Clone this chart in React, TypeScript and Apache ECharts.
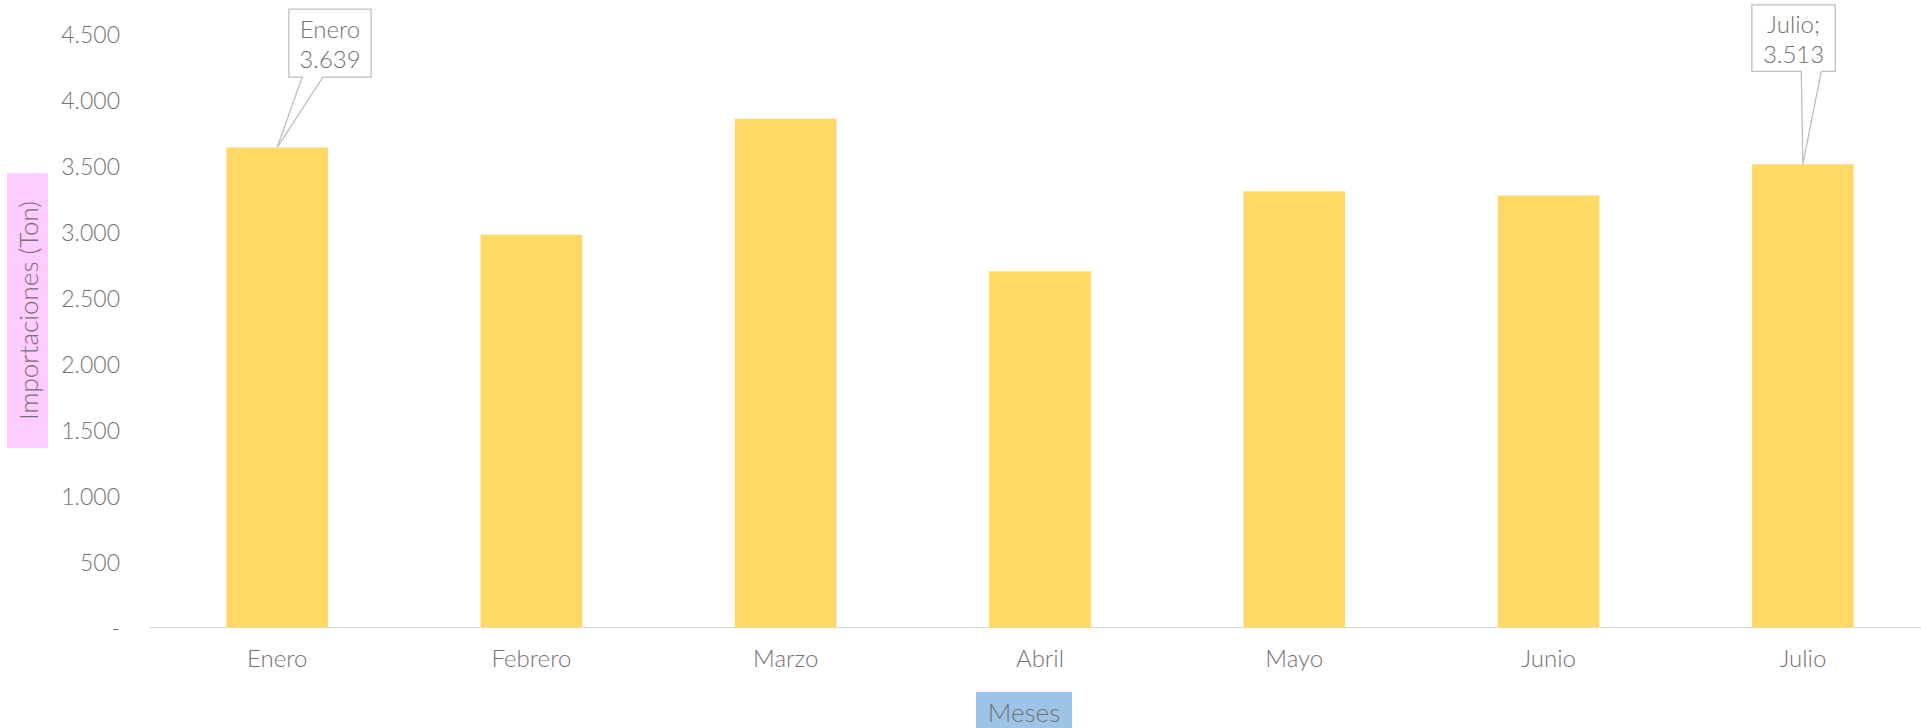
import React, { useEffect, useRef } from "react";
import * as echarts from "echarts";

const categories = ["Enero", "Febrero", "Marzo", "Abril", "Mayo", "Junio", "Julio"];
const importaciones = [3639, 2977, 3857, 2702, 3308, 3275, 3513];
const yTitle = "Importaciones (Ton)";
const xTitle = "Meses";
const calloutIdx = [0, 6];
const calloutSep = ["\n", ";\n"];

const FONT = "Lato, 'Open Sans', sans-serif";
const TXT = "#767171";
const EDGE = "#bfbfbf";
const W = 300;

const fmt = (v: number) => (v === 0 ? "-" : String(v).replace(/\B(?=(\d{3})+(?!\d))/g, "."));

export default function App() {
  const ref = useRef<HTMLDivElement>(null);
  useEffect(() => {
    if (!ref.current) return;
    const chart = echarts.init(ref.current, null, { renderer: "svg" });
    chart.setOption({
      animation: false,
      backgroundColor: "#ffffff",
      grid: { left: 150, right: 0, top: 34, bottom: 100.5, containLabel: false },
      xAxis: {
        type: "category",
        data: categories,
        axisLine: { show: true, lineStyle: { color: "#d9d9d9", width: 1 } },
        axisTick: { show: false },
        axisLabel: { color: TXT, fontFamily: FONT, fontWeight: W, fontSize: 24, margin: 18 },
        splitLine: { show: false },
      },
      yAxis: {
        type: "value",
        min: 0,
        max: 4500,
        interval: 500,
        axisLine: { show: false },
        axisTick: { show: false },
        splitLine: { show: false },
        axisLabel: {
          color: TXT,
          fontFamily: FONT,
          fontWeight: W,
          fontSize: 23,
          margin: 30,
          formatter: (v: number) => fmt(v),
        },
      },
      series: [
        {
          type: "bar",
          data: importaciones,
          barWidth: "40%",
          itemStyle: { color: "#ffd966" },
        },
      ],
    });

    const offsets = [
      { l: 11.7, r: 94, t: -138.4, b: -70.4, wl: 25, wr: 45.7 },
      { l: -51, r: 32.4, t: -159.3, b: -92.7, wl: -1.6, wr: 18.4 },
    ];
    const graphics: any[] = [
      { type: "rect", shape: { x: 7, y: 173, width: 41, height: 275 }, style: { fill: "#fdcbfd" }, silent: true },
      {
        type: "text",
        x: 27.5,
        y: 310.5,
        rotation: Math.PI / 2,
        style: { text: yTitle, fill: TXT, font: `${W} 26px ${FONT}`, align: "center", verticalAlign: "middle" },
      },
      { type: "rect", shape: { x: 976, y: 692, width: 96, height: 40 }, style: { fill: "#9dc3e6" }, silent: true },
      {
        type: "text",
        x: 1024,
        y: 712,
        style: { text: xTitle, fill: TXT, font: `${W} 26px ${FONT}`, align: "center", verticalAlign: "middle" },
      },
    ];
    calloutIdx.forEach((idx, k) => {
      const p = chart.convertToPixel({ xAxisIndex: 0, yAxisIndex: 0 }, [idx, importaciones[idx]]) as number[];
      const o = offsets[k];
      const [px, py] = p;
      const L = px + o.l, R = px + o.r, T = py + o.t, B = py + o.b;
      graphics.push({
        type: "polygon",
        shape: {
          points: [
            [L, T], [R, T], [R, B], [px + o.wr, B], [px, py], [px + o.wl, B], [L, B],
          ],
        },
        style: { fill: "#ffffff", stroke: EDGE, lineWidth: 1.3 },
        z: 10,
      });
      graphics.push({
        type: "text",
        x: (L + R) / 2,
        y: (T + B) / 2,
        z: 11,
        style: {
          text: `${categories[idx]}${calloutSep[k]}${fmt(importaciones[idx])}`,
          fill: TXT,
          font: `${W} 24px ${FONT}`,
          lineHeight: 30,
          align: "center",
          verticalAlign: "middle",
        },
      });
    });
    chart.setOption({ graphic: graphics });
    return () => chart.dispose();
  }, []);
  return <div ref={ref} style={{ position: "fixed", left: 0, top: 0, width: 1930, height: 728 }} />;
}
